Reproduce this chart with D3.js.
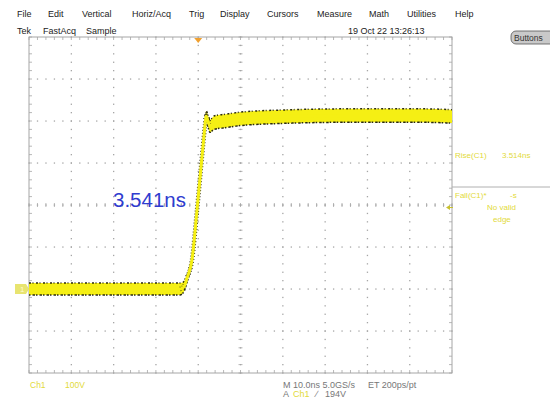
<!DOCTYPE html>
<html>
<head>
<meta charset="utf-8">
<script src="https://cdn.jsdelivr.net/npm/d3@7"></script>
<style>
  html, body { margin: 0; padding: 0; background: #fff; }
  svg { display: block; }
  text { font-family: "Liberation Sans", Arial, sans-serif; }
</style>
</head>
<body>
<svg id="scope" width="550" height="398"></svg>
<script>
// Menu bar and status line
const menuItems = ["File", "Edit", "Vertical", "Horiz/Acq", "Trig", "Display", "Cursors", "Measure", "Math", "Utilities", "Help"];
const menuX = [17, 48, 82, 132, 189, 220, 267, 317, 369, 407, 455];
const statusItems = ["Tek", "FastAcq", "Sample"];
const statusX = [17, 43, 86];
const timestamp = "19 Oct 22 13:26:13";

// Acquired waveform: time (ns, relative to trigger), level (V), noise half-band (V)
const timeNs = [-40, -30, -20, -10, -4.3, -3.4, -2.65, -1.47, -0.28, 1.61, 1.84, 2.79, 3.74, 6.34, 9.88, 19.3, 35.9, 52.4, 60];
const volts  = [0, 0, 0, 0, 0, 5, 26, 69, 188, 390, 412, 388, 396, 400, 405, 410, 413, 413, 411];
const spread = [14, 14, 14, 14, 14, 12, 8, 6, 6, 8, 12, 15, 16, 16, 16, 16, 16, 16, 16];
// Sample range of the rising edge (indices into the arrays above)
const edgeRange = [4, 11];

// Axis settings
const timeDomain = [-40, 60];     // 10 ns/div, 10 divisions
const voltDomain = [-200, 600];   // 100 V/div, 8 divisions
const triggerLevel = 194;
const riseLabel = "3.541ns";

const svg = d3.select("#scope");
const plotL = 29, plotR = 452, plotT = 37, plotB = 373;

const x = d3.scaleLinear().domain(timeDomain).range([plotL, plotR]);
const y = d3.scaleLinear().domain(voltDomain).range([plotB, plotT]);

const gridCol = "#a6a6a6";
const xMajor = d3.range(timeDomain[0], timeDomain[1] + 0.01, 10);
const yMajor = d3.range(voltDomain[0], voltDomain[1] + 0.01, 100);
const xMinor = d3.range(timeDomain[0], timeDomain[1] + 0.01, 2);
const yMinor = d3.range(voltDomain[0], voltDomain[1] + 0.01, 20);
const xCenter = (timeDomain[0] + timeDomain[1]) / 2;
const yCenter = (voltDomain[0] + voltDomain[1]) / 2;

// Graticule dots on interior division lines
const grid = svg.append("g");
const dots = [];
xMajor.slice(1, -1).forEach(t => yMinor.forEach(v => dots.push([x(t), y(v)])));
yMajor.slice(1, -1).forEach(v => xMinor.forEach(t => dots.push([x(t), y(v)])));
grid.selectAll("rect.dot").data(dots).join("rect")
  .attr("class", "dot")
  .attr("x", d => d[0] - 0.6).attr("y", d => d[1] - 0.6)
  .attr("width", 1.3).attr("height", 1.3)
  .attr("fill", gridCol);

// Center crosshair minor ticks
grid.selectAll("line.cx").data(xMinor).join("line")
  .attr("class", "cx")
  .attr("x1", d => x(d)).attr("x2", d => x(d))
  .attr("y1", y(yCenter) - 2).attr("y2", y(yCenter) + 2)
  .attr("stroke", gridCol).attr("stroke-width", 0.8);
grid.selectAll("line.cy").data(yMinor).join("line")
  .attr("class", "cy")
  .attr("y1", d => y(d)).attr("y2", d => y(d))
  .attr("x1", x(xCenter) - 2).attr("x2", x(xCenter) + 2)
  .attr("stroke", gridCol).attr("stroke-width", 0.8);

// Frame with inward ticks
grid.append("rect")
  .attr("x", plotL).attr("y", plotT)
  .attr("width", plotR - plotL).attr("height", plotB - plotT)
  .attr("fill", "none").attr("stroke", gridCol).attr("stroke-width", 1);
xMinor.forEach(t => {
  grid.append("line").attr("x1", x(t)).attr("x2", x(t)).attr("y1", plotT).attr("y2", plotT + 3)
    .attr("stroke", gridCol).attr("stroke-width", 0.8);
  grid.append("line").attr("x1", x(t)).attr("x2", x(t)).attr("y1", plotB).attr("y2", plotB - 3)
    .attr("stroke", gridCol).attr("stroke-width", 0.8);
});
yMinor.forEach(v => {
  grid.append("line").attr("y1", y(v)).attr("y2", y(v)).attr("x1", plotL).attr("x2", plotL + 3)
    .attr("stroke", gridCol).attr("stroke-width", 0.8);
  grid.append("line").attr("y1", y(v)).attr("y2", y(v)).attr("x1", plotR).attr("x2", plotR - 3)
    .attr("stroke", gridCol).attr("stroke-width", 0.8);
});

// Waveform: noise band, dark speckled envelope, bright centre trace
const pts = timeNs.map((t, i) => ({ t, v: volts[i], s: spread[i] }));
const band = d3.area().x(d => x(d.t)).y0(d => y(d.v - d.s)).y1(d => y(d.v + d.s)).curve(d3.curveMonotoneX);
const upper = d3.line().x(d => x(d.t)).y(d => y(d.v + d.s)).curve(d3.curveMonotoneX);
const lower = d3.line().x(d => x(d.t)).y(d => y(d.v - d.s)).curve(d3.curveMonotoneX);
const mid = d3.line().x(d => x(d.t)).y(d => y(d.v)).curve(d3.curveMonotoneX);
const edgePts = pts.slice(edgeRange[0], edgeRange[1] + 1);

const wave = svg.append("g");
wave.append("path").datum(pts).attr("d", band).attr("fill", "#f5ef14");
wave.append("path").datum(pts).attr("d", upper).attr("fill", "none")
  .attr("stroke", "#2a2a10").attr("stroke-width", 1.5).attr("stroke-dasharray", "2,1.5,1,2.5");
wave.append("path").datum(pts).attr("d", lower).attr("fill", "none")
  .attr("stroke", "#2a2a10").attr("stroke-width", 1.5).attr("stroke-dasharray", "1.5,2,2.5,1");
wave.append("path").datum(edgePts).attr("d", mid).attr("fill", "none")
  .attr("stroke", "#2a2a10").attr("stroke-width", 4.5).attr("stroke-dasharray", "1,2");
wave.append("path").datum(pts).attr("d", mid).attr("fill", "none")
  .attr("stroke", "#f5ef14").attr("stroke-width", 3);

// Channel ground marker
const gy = y(0);
svg.append("path")
  .attr("d", `M15,${gy - 5} L26,${gy - 5} L29,${gy} L26,${gy + 5} L15,${gy + 5} Z`)
  .attr("fill", "#e8e470");
svg.append("text").attr("x", 20).attr("y", gy + 3).attr("font-size", 8)
  .attr("fill", "#fffbd0").text("1");

// Trigger position and level markers
const tx = x(0);
svg.append("path").attr("d", `M${tx - 4},${plotT + 1} L${tx + 4},${plotT + 1} L${tx},${plotT + 6} Z`)
  .attr("fill", "#f0a030");
const ty = y(triggerLevel);
svg.append("path").attr("d", `M${plotR - 6},${ty} L${plotR - 2},${ty - 2.5} L${plotR - 2},${ty + 2.5} Z`)
  .attr("fill", "#c8c030");
svg.append("line").attr("x1", plotR - 3).attr("x2", plotR + 1).attr("y1", ty).attr("y2", ty)
  .attr("stroke", "#c8c030").attr("stroke-width", 1);

// Menu bar
svg.selectAll("text.menu").data(menuItems).join("text")
  .attr("class", "menu")
  .attr("x", (d, i) => menuX[i]).attr("y", 17)
  .attr("font-size", 9).attr("fill", "#222").text(d => d);
svg.selectAll("text.status").data(statusItems).join("text")
  .attr("class", "status")
  .attr("x", (d, i) => statusX[i]).attr("y", 34)
  .attr("font-size", 9).attr("fill", "#222").text(d => d);
svg.append("text").attr("x", 348).attr("y", 34).attr("font-size", 9).attr("fill", "#222").text(timestamp);

// Buttons tab
svg.append("rect").attr("x", 511).attr("y", 31).attr("width", 44).attr("height", 13).attr("rx", 5)
  .attr("fill", "#c9c9c9").attr("stroke", "#555").attr("stroke-width", 0.8);
svg.append("text").attr("x", 514).attr("y", 41).attr("font-size", 8.5).attr("fill", "#333").text("Buttons");

// Measurement readout
const measCol = "#e2da3a";
svg.append("text").attr("x", 455).attr("y", 158).attr("font-size", 8).attr("fill", measCol).text("Rise(C1)");
svg.append("text").attr("x", 502).attr("y", 158).attr("font-size", 8).attr("fill", measCol).text("3.514ns");
svg.append("line").attr("x1", plotR).attr("x2", 550).attr("y1", 187).attr("y2", 187)
  .attr("stroke", "#b0b0b0").attr("stroke-width", 1);
svg.append("text").attr("x", 455).attr("y", 198).attr("font-size", 8).attr("fill", measCol).text("Fall(C1)*");
svg.append("text").attr("x", 510).attr("y", 198).attr("font-size", 8).attr("fill", measCol).text("-s");
svg.append("text").attr("x", 487).attr("y", 210).attr("font-size", 8).attr("fill", measCol).text("No valid");
svg.append("text").attr("x", 493).attr("y", 222).attr("font-size", 8).attr("fill", measCol).text("edge");

// Bottom readouts
svg.append("text").attr("x", 30).attr("y", 388).attr("font-size", 8.5).attr("fill", measCol).text("Ch1");
svg.append("text").attr("x", 65).attr("y", 388).attr("font-size", 8.5).attr("fill", measCol).text("100V");
svg.append("text").attr("x", 283).attr("y", 388).attr("font-size", 9).attr("fill", "#777").text("M 10.0ns 5.0GS/s");
svg.append("text").attr("x", 368).attr("y", 388).attr("font-size", 9).attr("fill", "#777").text("ET 200ps/pt");
svg.append("text").attr("x", 283).attr("y", 397).attr("font-size", 9).attr("fill", "#777").text("A");
svg.append("text").attr("x", 293).attr("y", 397).attr("font-size", 9).attr("fill", measCol).text("Ch1");
svg.append("text").attr("x", 316).attr("y", 397).attr("font-size", 9).attr("fill", "#777").text("\u2215");
svg.append("text").attr("x", 325).attr("y", 397).attr("font-size", 9).attr("fill", "#777").text(triggerLevel + "V");

// Rise-time annotation
svg.append("text").attr("x", 113).attr("y", 207).attr("font-family", "Lato, sans-serif")
  .attr("font-size", 20.5).attr("fill", "#2f3ccf").text(riseLabel);
</script>
</body>
</html>
